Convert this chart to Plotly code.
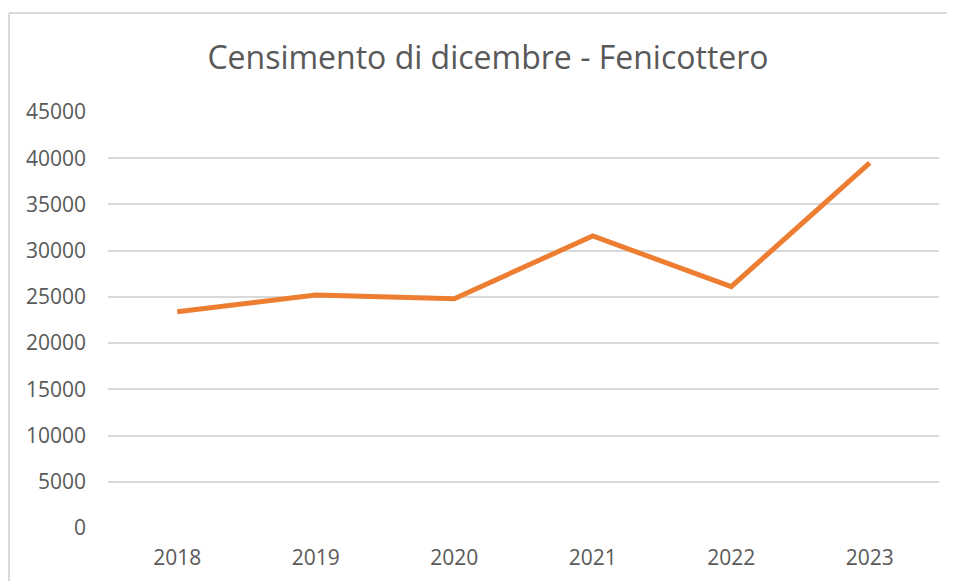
import plotly.graph_objects as go

years = ["2018", "2019", "2020", "2021", "2022", "2023"]
counts = [23400, 25200, 24800, 31600, 26100, 39500]
y_ticks = [0, 5000, 10000, 15000, 20000, 25000, 30000, 35000, 40000, 45000]
title_text = "Censimento di dicembre - Fenicottero"

# page body adds an 8px offset; layout below is in figure coordinates
W, H = 947, 573
L, R, T, B = 100, 16, 104, 53
pw, ph = W - L - R, H - T - B

def px_x(p):
    return (p - L) / pw

def px_y(p):
    return (H - B - p) / ph

FONT = "Open Sans, Lato, sans-serif"
fig = go.Figure()
fig.add_trace(go.Scatter(
    x=years, y=counts, mode="lines",
    line=dict(color="#ED7D31", width=5, shape="linear"),
    hoverinfo="x+y",
))

border = "#d9d9d9"
fig.update_layout(
    width=W, height=H,
    margin=dict(l=L, r=R, t=T, b=B),
    paper_bgcolor="white", plot_bgcolor="white",
    showlegend=False,
    font=dict(family=FONT, color="#595959"),
    title=dict(text=title_text, x=480 / W, xref="container", xanchor="center",
               y=1 - 50 / H, yref="container", yanchor="middle",
               font=dict(size=32, color="#595959", family=FONT)),
    xaxis=dict(type="category", range=[-0.5, 5.5], showgrid=False, zeroline=False,
               showline=False, ticks="", tickfont=dict(size=21, color="#595959"),
               ticklabelstandoff=15, automargin=False),
    yaxis=dict(range=[0, 45000], tickvals=y_ticks, ticktext=[str(v) for v in y_ticks],
               showgrid=True, gridcolor=border, gridwidth=2, zeroline=False,
               showline=False, ticks="", tickfont=dict(size=21, color="#595959"),
               ticklabelstandoff=21, automargin=False),
    shapes=[
        dict(type="line", xref="paper", yref="paper",
             x0=px_x(1), x1=px_x(1), y0=px_y(5), y1=px_y(600),
             line=dict(color=border, width=2)),
        dict(type="line", xref="paper", yref="paper",
             x0=px_x(1), x1=px_x(970), y0=px_y(5), y1=px_y(5),
             line=dict(color=border, width=2)),
    ],
)

fig.write_html("out.html")
